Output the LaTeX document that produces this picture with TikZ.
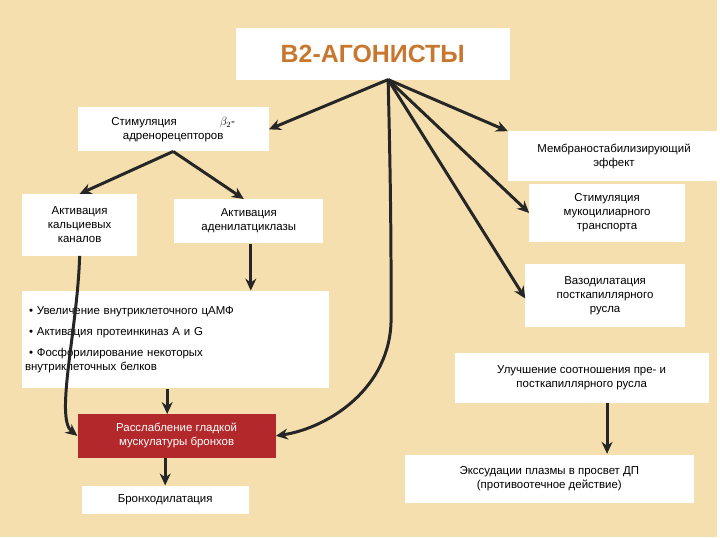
\documentclass[tikz,border=0pt]{standalone}
\usepackage{fontspec}
\setmainfont{Liberation Sans}
\usetikzlibrary{arrows.meta}
\definecolor{bg}{HTML}{F5DFAE}
\definecolor{ttl}{HTML}{C8782E}
\definecolor{relax}{HTML}{B3282A}
\tikzset{
 box/.style={fill=white,draw=none,align=center,font=\fontsize{11.5}{14}\selectfont,inner sep=2pt},
 arr/.style={line width=3pt,-{Stealth[length=12pt,width=11pt]},draw=black!85}
}
\begin{document}
\begin{tikzpicture}[x=1pt,y=-1pt]
\fill[bg] (0,0) rectangle (720,540);
\node[fill=white,minimum width=275,minimum height=52] (t) at (374.5,54) {\textcolor{ttl}{\fontsize{25}{28}\selectfont\bfseries В2-АГОНИСТЫ}};
\coordinate (hub) at (390,80);
\node[box,minimum width=192,minimum height=44] (s) at (174,130) {Стимуляция \hspace{3.2em} $\beta_2$-\\адренорецепторов};
\node[box,minimum width=213,minimum height=50] (m) at (617,157) {Мембраностабилизирующий\\эффект};
\node[box,minimum width=116,minimum height=62] (ca) at (80,226) {Активация\\кальциевых\\каналов};
\node[box,minimum width=150,minimum height=45] (ad) at (250,222) {Активация\\аденилатциклазы};
\node[box,minimum width=156,minimum height=58] (mc) at (610,214) {Стимуляция\\мукоцилиарного\\транспорта};
\node[box,text width=302,minimum height=98,align=left,anchor=north west,inner sep=3pt] (b) at (22,292) {%
\hspace{4pt}• Увеличение внутриклеточного цАМФ\\[7pt]\hspace{4pt}• Активация протеинкиназ А и G\\[7pt]\hspace{4pt}• Фосфорилирование некоторых\\внутриклеточных белков};
\node[box,minimum width=160,minimum height=63] (v) at (608,297) {Вазодилатация\\посткапиллярного\\русла};
\node[box,minimum width=255,minimum height=50] (i) at (584.5,380) {Улучшение соотношения пре- и\\посткапиллярного русла};
\node[box,fill=relax,text=white,minimum width=199,minimum height=44] (r) at (177.5,438) {Расслабление гладкой\\мускулатуры бронхов};
\node[box,minimum width=168,minimum height=28] (br) at (166,502) {Бронходилатация};
\node[box,minimum width=290,minimum height=48] (e) at (552,481) {Экссудации плазмы в просвет ДП\\(противоотечное действие)};
\coordinate (adtop) at (245,200);
\coordinate (bt) at (252,292);
\coordinate (rt) at (168,416);
\coordinate (ex) at (610,456);
\draw[arr] (hub) -- (s.east);
\draw[arr] (hub) -- (m.north west);
\draw[arr] (hub) -- (mc.west);
\draw[arr] (hub) -- ([yshift=-3]v.west);
\draw[arr] (hub) .. controls (393,200) and (393,260) .. (393,320) .. controls (393,390) and (330,430) .. (r.east);
\draw[arr] (s.south) -- (ca.north);
\draw[arr] (s.south) -- (adtop);
\draw[arr] (ca.south) .. controls (78,330) and (55,420) .. (r.west);
\draw[arr] (ad.south -| bt) -- (bt);
\draw[arr] (b.south -| rt) -- (rt);
\draw[arr] (r.south -| br.north) -- (br.north);
\draw[arr] (i.south -| ex) -- (ex);
\end{tikzpicture}
\end{document}
